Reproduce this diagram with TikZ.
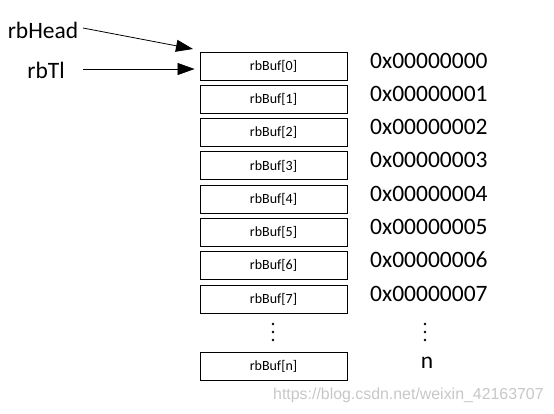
\documentclass[tikz,border=0pt]{standalone}
\usepackage{fontspec}
\setmainfont{Carlito}
\newfontfamily\markfont{Liberation Sans}
\usetikzlibrary{arrows.meta}

\tikzset{
    bufbox/.style={draw, line width=0.9pt, minimum width=147pt, minimum height=28pt,
        inner sep=0pt, font=\fontsize{14}{16}\selectfont},
    addr/.style={anchor=base west, inner sep=0pt, font=\fontsize{23.5}{26}\selectfont},
    ptr/.style={-{Triangle[length=17pt,width=12pt]}, line width=0.8pt},
    vdot/.style={circle, fill, inner sep=0pt, minimum size=2.6pt}
}

\begin{document}
\begin{tikzpicture}[x=1pt, y=-1pt]
        \useasboundingbox (0,0) rectangle (554,413);
        % ring buffer cells
        \foreach \i in {0,...,7} {
            \node [bufbox] (buf\i) at (273.5,66+33.3*\i) {rbBuf[\i]};
            \node [addr] (addr\i) at (370,68+33.3*\i) {0x0000000\i};
        }
        \node [bufbox] (bufn) at (273.5,366) {rbBuf[n]};
        \node [inner sep=0pt, anchor=base, font=\fontsize{23.5}{26}\selectfont] (addrn) at (427,368) {n};
        % dots between 7 and n
        \foreach \k/\dy in {a/-8, b/0, c/8} {
            \node [vdot] (bd\k) at (273,332+\dy) {};
            \node [vdot] (ad\k) at (425,332+\dy) {};
        }
        % pointers
        \node [inner sep=0pt, font=\fontsize{23.5}{26}\selectfont] (head) at (43,30) {rbHead};
        \node [inner sep=0pt, font=\fontsize{23.5}{26}\selectfont] (tl) at (46,70) {rbTl};
        \coordinate (headstart) at (83,28);
        \coordinate (tlstart) at (83,69);
        \coordinate (headtip) at (193,49);
        \draw [ptr] (headstart) -- (headtip);
        \draw [ptr] (tlstart) -- ([xshift=-5pt, yshift=-3pt]buf0.west);
        % watermark
        \node [anchor=west, inner sep=0pt, text=black!22, font=\markfont\fontsize{15.9}{18}\selectfont] (mark) at (273,395) {https://blog.csdn.net/weixin\_42163707};
    \end{tikzpicture}
\end{document}
